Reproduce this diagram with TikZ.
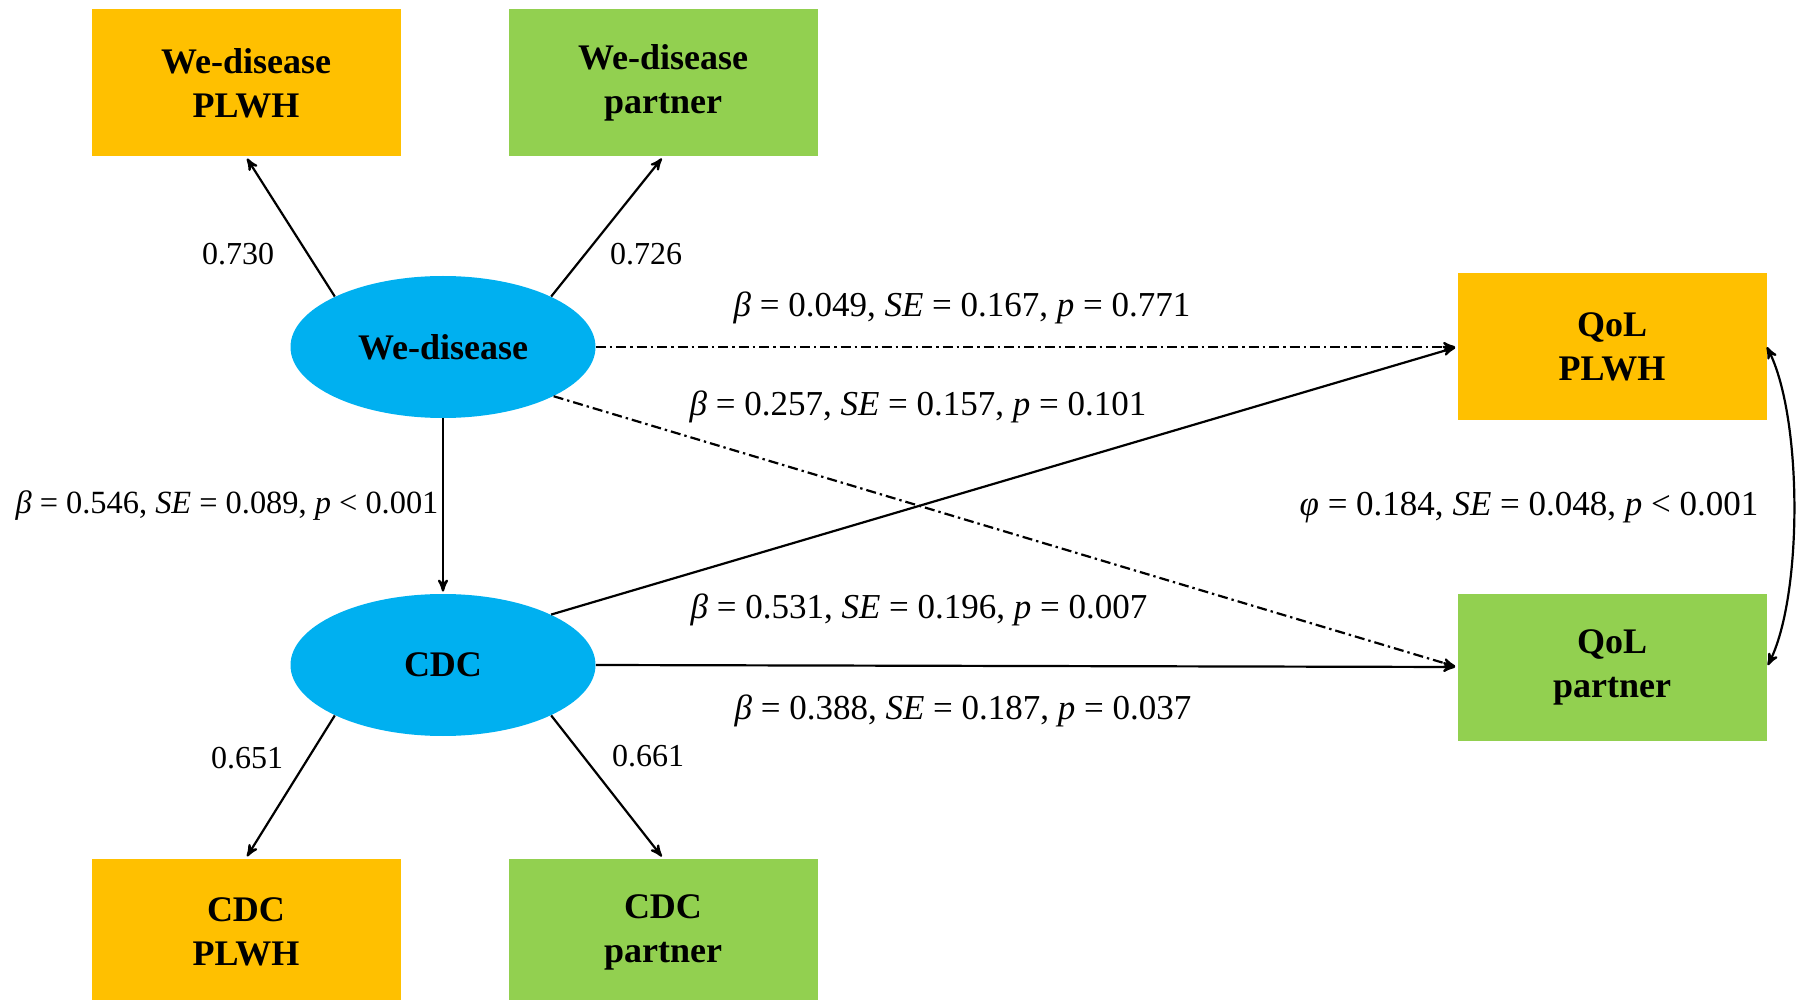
\documentclass[tikz,border=0pt]{standalone}
\usepackage{fontspec}
\setmainfont{Liberation Serif}
\usetikzlibrary{arrows,shapes.geometric}
\definecolor{plwhgold}{HTML}{FFC000}
\definecolor{partnergreen}{HTML}{92D050}
\definecolor{latentblue}{HTML}{00B0F0}

\begin{document}
\begin{tikzpicture}[x=0.5pt, y=-0.5pt, >=stealth', shorten >=1pt,
    align=center,
    box/.style={rectangle, minimum width=154.5pt, minimum height=73.5pt,
        font=\fontsize{18}{22}\selectfont\bfseries},
    plwh/.style={box, fill=plwhgold},
    partner/.style={box, fill=partnergreen},
    latent/.style={ellipse, fill=latentblue, minimum width=152.5pt,
        minimum height=71pt, font=\fontsize{18}{22}\selectfont\bfseries},
    load/.style={font=\fontsize{16}{19}\selectfont},
    coef/.style={font=\fontsize{17.5}{21}\selectfont},
    link/.style={->, line width=1.1pt},
    nsig/.style={link, dash pattern=on 5pt off 2pt on 1.2pt off 2pt}]
    \useasboundingbox (0,0) rectangle (1796,1000);
    \node[plwh] (wdp) at (246,83) {We-disease\\PLWH};
    \node[partner] (wdpa) at (663,83) {We-disease\\partner};
    \node[latent] (wd) at (443,347) {We-disease};
    \node[latent] (cdc) at (443,665) {CDC};
    \node[plwh] (cdcp) at (246,932) {CDC\\PLWH};
    \node[partner] (cdcpa) at (663,932) {CDC\\partner};
    \node[plwh] (qp) at (1612,347) {QoL\\PLWH};
    \node[partner] (qpa) at (1612,667) {QoL\\partner};
    % labels
    \node[load] (l1) at (238,254) {0.730};
    \node[load] (l2) at (646,254) {0.726};
    \node[load] (l3) at (247,758) {0.651};
    \node[load] (l4) at (648,756) {0.661};
    \node[coef, font=\fontsize{16.2}{19}\selectfont] (c1) at (227,506)
        {\textit{β} = 0.546, \textit{SE} = 0.089, \textit{p} < 0.001};
    \node[coef] (c2) at (962,308) {\textit{β} = 0.049, \textit{SE} = 0.167, \textit{p} = 0.771};
    \node[coef] (c3) at (918,407) {\textit{β} = 0.257, \textit{SE} = 0.157, \textit{p} = 0.101};
    \node[coef] (c4) at (919,610) {\textit{β} = 0.531, \textit{SE} = 0.196, \textit{p} = 0.007};
    \node[coef] (c5) at (963,711) {\textit{β} = 0.388, \textit{SE} = 0.187, \textit{p} = 0.037};
    \node[coef] (c6) at (1529,508) {\textit{φ} = 0.184, \textit{SE} = 0.048, \textit{p} < 0.001};
    \path[link]     (wd.155) edge (wdp.south)
                    (wd.25) edge (wdpa.south)
                    (cdc.205) edge (cdcp.north)
                    (cdc.335) edge (cdcpa.north)
                    (wd.south) edge (cdc.north)
                    (cdc.25) edge (qp.west)
                    (cdc.east) edge (qpa.west);
    \path[nsig]     (wd.east) edge (qp.west)
                    (wd.-24) edge (qpa.west);
    \draw[link, <->] (qp.east) .. controls +(36,70) and +(36,-70) .. (qpa.east);
\end{tikzpicture}
\end{document}
